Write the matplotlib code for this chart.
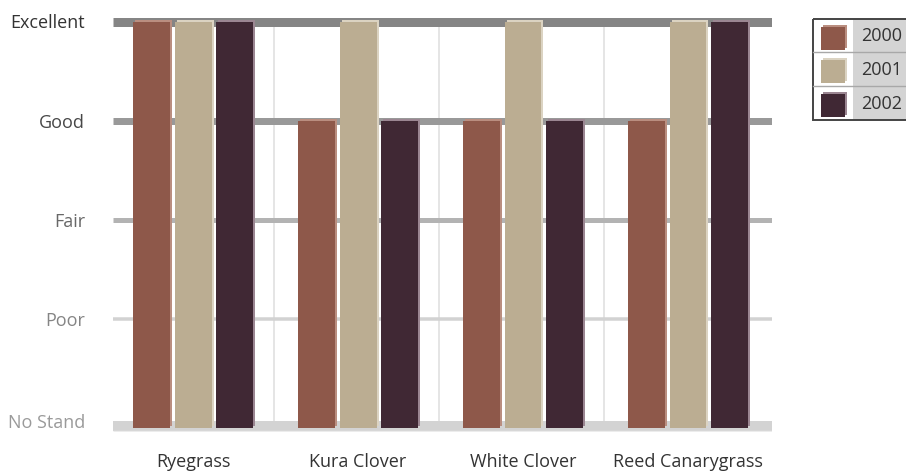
import matplotlib
matplotlib.use('Agg')
import matplotlib.pyplot as plt
from matplotlib.patches import Rectangle
from matplotlib.transforms import offset_copy
import numpy as np

plt.rcParams['font.family'] = ['Open Sans', 'DejaVu Sans']

# Stand ratings per species (0 = No Stand ... 4 = Excellent)
species = ['Ryegrass', 'Kura Clover', 'White Clover', 'Reed Canarygrass']
years = ['2000', '2001', '2002']
rating_2000 = [4, 3, 3, 3]
rating_2001 = [4, 4, 4, 4]
rating_2002 = [4, 3, 3, 4]
levels = ['No Stand', 'Poor', 'Fair', 'Good', 'Excellent']

ratings = [rating_2000, rating_2001, rating_2002]
bar_colors = ['#8e584a', '#bbad92', '#402834']
edge_colors = ['#ba8e80', '#dbd3c2', '#9b8692']
level_colors = ['#9a9a9a', '#858585', '#686868', '#474747', '#333333']
grid_colors = ['#d3d3d3', '#d2d2d2', '#b3b3b3', '#999999', '#858585']
grid_px = [10, 3.5, 5, 7, 9]

W, H = 906, 471
fig = plt.figure(figsize=(W / 100, H / 100), dpi=100)

# y: 99 px per rating step, x: 165 px per species group
ax = fig.add_axes([113 / W, (H - 432.35) / H, 659 / W, (432.35 - 11.6) / H])
ax.set_xlim(-0.485, 3.509)
ax.set_ylim(-0.15, 4.1)
for s in ax.spines.values():
    s.set_visible(False)

x = np.arange(len(species))
base = -0.105

# light vertical separators between groups
ax.vlines(x[:-1] + 0.49, -0.09, 4, colors='#dedede', linewidth=1.1, zorder=1)

# horizontal rating lines, heavier toward the top
for lv in range(1, 5):
    ax.hlines(lv, -0.485, 3.509, colors=grid_colors[lv],
              linewidth=grid_px[lv] * 0.72, zorder=2)
ax.hlines(-0.085, -0.485, 3.509, colors=grid_colors[0],
          linewidth=grid_px[0] * 0.72, zorder=2)
ax.hlines(-0.14, -0.485, 3.509, colors='#ececec', linewidth=1, zorder=2)

offsets = [-0.25, 0.0, 0.25]
width = 0.224
shifted = offset_copy(ax.transData, fig=fig, x=2, y=2, units='dots')
for vals, off, c, ec in zip(ratings, offsets, bar_colors, edge_colors):
    h = np.array(vals) - base
    ax.bar(x + off, h, width, bottom=base, color=ec, zorder=3,
           transform=shifted)
    ax.bar(x + off, h, width, bottom=base, color=c, zorder=4)

# the floor label sits on the grey band rather than at zero
ax.set_yticks([-0.035, 1, 2, 3, 4])
ax.set_yticklabels(levels, fontsize=13)
for lbl, col in zip(ax.get_yticklabels(), level_colors):
    lbl.set_color(col)
ax.set_xticks(x)
ax.set_xticklabels(species, fontsize=13, color='#333333')
ax.tick_params(axis='y', length=0, pad=20)
ax.tick_params(axis='x', length=0, pad=15)

# legend table drawn in pixel coordinates
lg = fig.add_axes([0, 0, 1, 1], facecolor='none')
lg.set_xlim(0, W)
lg.set_ylim(H, 0)
lg.axis('off')
top, row_h = 18.5, 33.8
lg.add_patch(Rectangle((813, top), 40, 3 * row_h, facecolor='white',
                       edgecolor='none'))
lg.add_patch(Rectangle((853, top), 60, 3 * row_h, facecolor='#d4d4d4',
                       edgecolor='none'))
for i, (yr, c, ec) in enumerate(zip(years, bar_colors, edge_colors)):
    y0 = top + i * row_h
    if i > 0:
        lg.plot([813, 910], [y0, y0], color='#a8a8a8', lw=1)
    lg.add_patch(Rectangle((823, y0 + 6), 24, 23, facecolor=ec,
                           edgecolor='none'))
    lg.add_patch(Rectangle((821, y0 + 8), 24, 23, facecolor=c,
                           edgecolor='none'))
    lg.text(861, y0 + row_h / 2 + 1, yr, fontsize=13, color='#333333',
            va='center', ha='left')
lg.add_patch(Rectangle((813, top), 100, 3 * row_h, facecolor='none',
                       edgecolor='#444444', linewidth=1.4))

fig.savefig('out.png', dpi=100)
